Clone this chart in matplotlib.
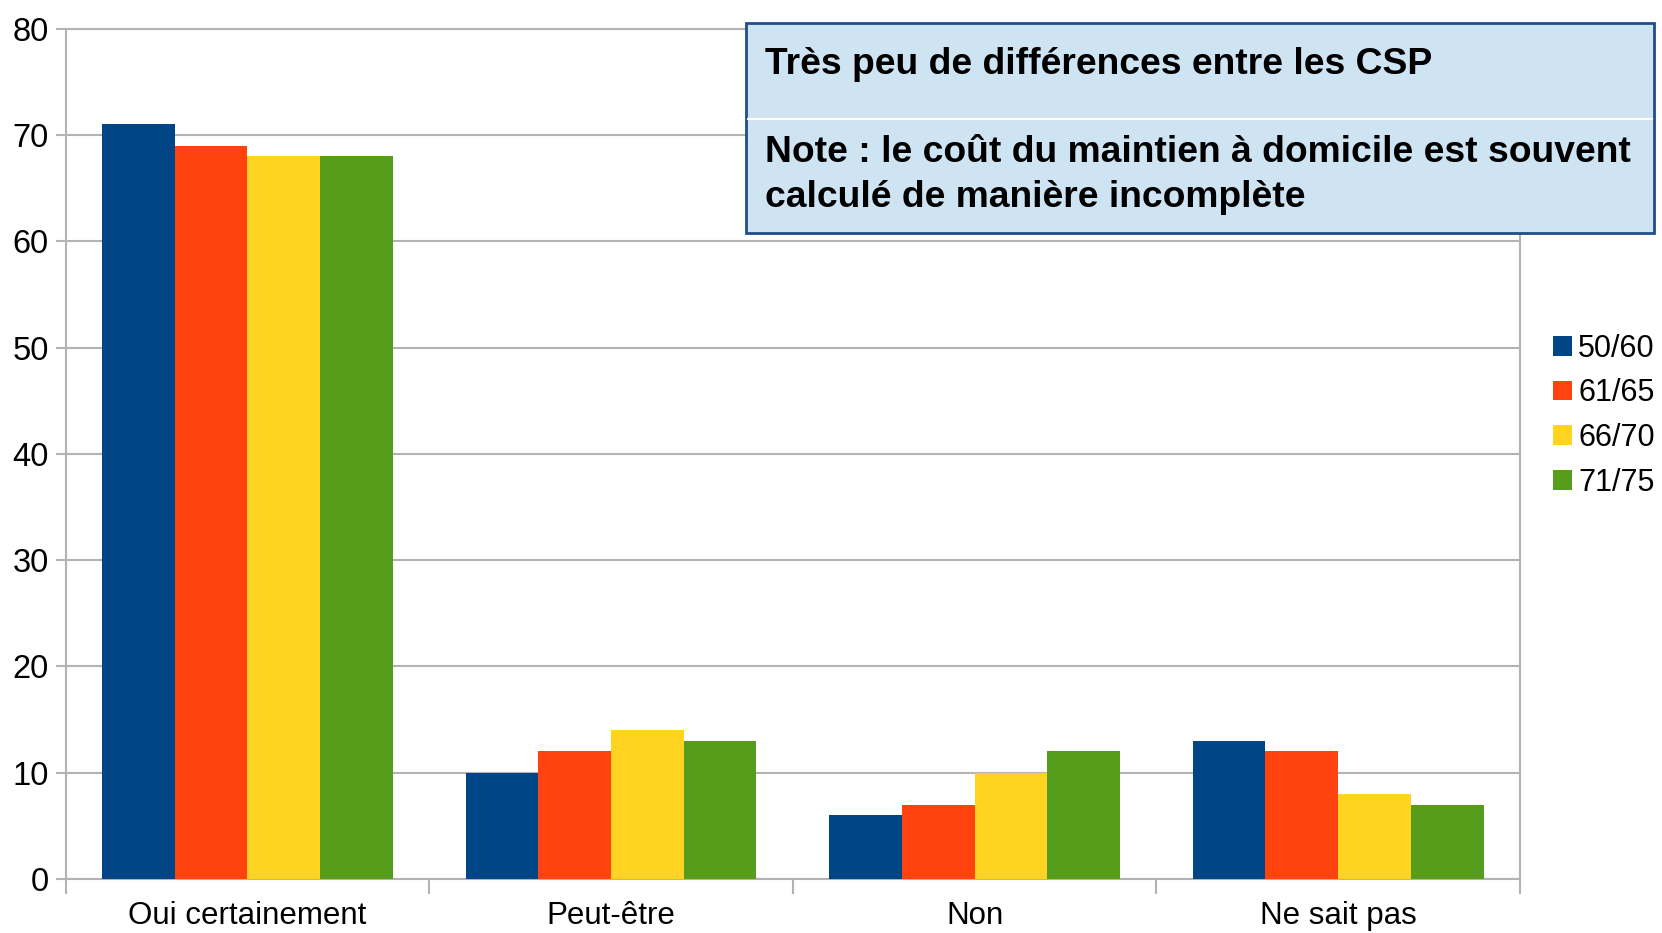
import matplotlib.pyplot as plt
import numpy as np
from matplotlib.patches import Rectangle
from matplotlib.lines import Line2D

plt.rcParams['font.family'] = ['Liberation Sans', 'DejaVu Sans']

# data
categories = ["Oui certainement", "Peut-être", "Non", "Ne sait pas"]
series_names = ["50/60", "61/65", "66/70", "71/75"]
v_50_60 = [71, 10, 6, 13]
v_61_65 = [69, 12, 7, 12]
v_66_70 = [68, 14, 10, 8]
v_71_75 = [68, 13, 12, 7]
colors = ["#004586", "#ff420e", "#ffd320", "#579d1c"]
y_ticks = [0, 10, 20, 30, 40, 50, 60, 70, 80]

note_title = "Très peu de différences entre les CSP"
note_body = "Note : le coût du maintien à domicile est souvent\ncalculé de manière incomplète"

fig = plt.figure(figsize=(16.62, 9.33), dpi=100)
ax = fig.add_axes([0.0395, 0.0579, 0.875, 0.9114])

x = np.arange(len(categories))
width = 0.2
all_series = [v_50_60, v_61_65, v_66_70, v_71_75]
for i, (vals, name, col) in enumerate(zip(all_series, series_names, colors)):
    ax.bar(x + (i - 1.5) * width, vals, width, color=col, label=name, zorder=3)

ax.set_xlim(-0.5, len(categories) - 0.5)
ax.set_ylim(0, 80)
ax.set_yticks(y_ticks)
ax.yaxis.grid(True, color="#b3b3b3", linewidth=1.5, zorder=0)
ax.set_axisbelow(True)

ax.set_xticks(x)
ax.set_xticklabels(categories, fontsize=22.5)
ax.tick_params(axis='x', which='major', length=0, pad=16)
ax.set_xticks(np.arange(-0.5, len(categories)), minor=True)
ax.tick_params(axis='x', which='minor', length=11, width=1.5, color="#b3b3b3")
ax.tick_params(axis='y', labelsize=23.5, length=7, width=1.5, color="#b3b3b3", pad=5)

for s in ax.spines.values():
    s.set_color("#b3b3b3")
    s.set_linewidth(1.5)

leg = ax.legend(loc='center left', bbox_to_anchor=(1.0145, 0.545), frameon=False,
                fontsize=22, handlelength=0.62, handleheight=0.62, handletextpad=0.2,
                labelspacing=0.48, borderaxespad=0)

# annotation box, placed in figure pixels
W, H = 1662, 933
bx0, bx1, by0, by1 = 746, 1654, 23, 233
fig.patches.append(Rectangle((bx0 / W, 1 - by1 / H), (bx1 - bx0) / W, (by1 - by0) / H,
                             transform=fig.transFigure, facecolor="#cfe4f3",
                             edgecolor="#1f4e8c", linewidth=2, zorder=5))
fig.lines.append(Line2D([(bx0 + 2) / W, (bx1 - 2) / W], [1 - 119 / H, 1 - 119 / H],
                        transform=fig.transFigure, color="white", linewidth=1.5, zorder=6))
fig.text(765 / W, 1 - 65 / H, note_title, fontsize=26.8, fontweight='bold',
         va='center', ha='left', zorder=7)
fig.text(765 / W, 1 - 175 / H, note_body, fontsize=26.8, fontweight='bold',
         va='center', ha='left', linespacing=1.35, zorder=7)

fig.savefig("out.png", dpi=100)
